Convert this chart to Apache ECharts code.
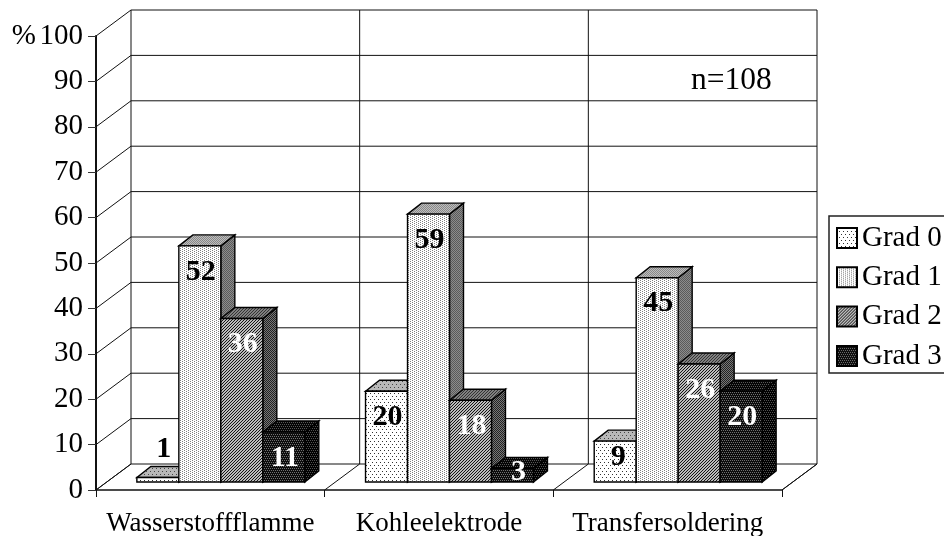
<!DOCTYPE html>
<html>
<head>
<meta charset="utf-8">
<style>html,body{margin:0;padding:0;background:#fff}#chart{width:944px;height:536px}</style>
<script src="https://cdn.jsdelivr.net/npm/echarts@6/dist/echarts.min.js"></script>
</head>
<body>
<div id="chart"></div>
<script>
// Values per procedure and grade (percent of n=108)
const categories = ['Wasserstoffflamme', 'Kohleelektrode', 'Transfersoldering'];
const grad0 = [1, 20, 9];
const grad1 = [52, 59, 45];
const grad2 = [36, 18, 26];
const grad3 = [11, 3, 20];
const seriesNames = ['Grad 0', 'Grad 1', 'Grad 2', 'Grad 3'];
const yTicks = [0, 10, 20, 30, 40, 50, 60, 70, 80, 90, 100];
const separators = [0, 1, 2, 3];

// Oblique projection used for the walls, the floor and the bars
const wallDx = 35, wallDy = -26;
const barLift = 8, barShiftX = 10.5, barDx = 14, barDy = -11;
const barShare = 0.1836;
const font = '"Liberation Serif","Times New Roman",serif';

// Small repeating fill tiles
function tile(w, h, bg, fg, cells) {
  const c = document.createElement('canvas');
  c.width = w; c.height = h;
  const g = c.getContext('2d');
  g.fillStyle = bg; g.fillRect(0, 0, w, h);
  g.fillStyle = fg;
  cells.forEach(p => g.fillRect(p[0], p[1], 1, 1));
  return { image: c, repeat: 'repeat' };
}
const sparse = [[0, 0], [4, 0], [2, 3], [6, 3]];
const speckle = [[0, 0], [2, 1]];
const checker = [[0, 0], [1, 1]];
const diagonal = [[0, 2], [1, 1], [2, 0]];
const grid = [[0, 0], [2, 0], [1, 2], [3, 2]];

const fills = [
  { front: tile(8, 6, '#ffffff', '#333333', sparse), top: tile(8, 6, '#b8b8b8', '#444444', sparse), side: tile(8, 6, '#888888', '#333333', sparse), text: '#000' },
  { front: tile(4, 2, '#ffffff', '#808080', speckle), top: tile(2, 2, '#bdbdbd', '#888888', checker), side: tile(2, 2, '#8c8c8c', '#5a5a5a', checker), text: '#000' },
  { front: tile(3, 3, '#bbbbbb', '#141414', diagonal), top: tile(3, 3, '#808080', '#333333', diagonal), side: tile(2, 2, '#777777', '#222222', checker), text: '#fff' },
  { front: tile(4, 4, '#0c0c0c', '#707070', grid), top: tile(4, 4, '#050505', '#555555', grid), side: tile(4, 4, '#000000', '#505050', grid), text: '#fff' }
];

// Label placement relative to the top of a bar's front face, for the short bars
function labelShift(v) {
  if (v === 1) return { x: 6, y: -28 };
  if (v === 3) return { x: 6, y: 4 };
  if (v === 9) return { x: 3, y: 16 };
  return { x: 1, y: 26 };
}

function barSeries(index, values) {
  const f = fills[index];
  return {
    type: 'custom',
    name: seriesNames[index],
    coordinateSystem: 'cartesian2d',
    encode: { x: 0, y: 1 },
    z: 5,
    itemStyle: { color: f.front, borderColor: '#000', borderWidth: 1 },
    data: values.map((v, i) => [i, v]),
    renderItem: function (params, api) {
      const v = api.value(1);
      const top = api.coord([api.value(0), v]);
      const base = api.coord([api.value(0), 0]);
      const w = api.size([1, 0])[0] * barShare;
      const x0 = top[0] + barShiftX + (index - 2) * w;
      const x1 = x0 + w;
      const yT = top[1] - barLift;
      const yB = base[1] - barLift;
      const line = { stroke: '#000', lineWidth: 1.4 };
      const shift = labelShift(v);
      return {
        type: 'group',
        children: [
          { type: 'polygon', shape: { points: [[x1, yT], [x1 + barDx, yT + barDy], [x1 + barDx, yB + barDy], [x1, yB]] }, style: Object.assign({ fill: f.side }, line) },
          { type: 'polygon', shape: { points: [[x0, yT], [x0 + barDx, yT + barDy], [x1 + barDx, yT + barDy], [x1, yT]] }, style: Object.assign({ fill: f.top }, line) },
          { type: 'rect', shape: { x: x0, y: yT, width: w, height: yB - yT }, style: Object.assign({ fill: f.front }, line) },
          { type: 'text', z2: 20, x: (x0 + x1) / 2 + shift.x, y: yT + shift.y, style: { text: String(v), fill: f.text, font: 'bold 30px ' + font, align: 'center', verticalAlign: 'middle' } }
        ]
      };
    }
  };
}

// Left wall slants and back wall rules, one per y tick, plus the floor edge at zero
const wallSeries = {
  type: 'custom',
  coordinateSystem: 'cartesian2d',
  silent: true,
  z: 1,
  encode: { x: 0, y: 1 },
  data: yTicks.map(t => [0, t]),
  renderItem: function (params, api) {
    const r = params.coordSys;
    const y = api.coord([0, api.value(1)])[1];
    const right = r.x + r.width;
    const line = { stroke: '#111', lineWidth: 1 };
    const children = [
      { type: 'line', shape: { x1: r.x, y1: y, x2: r.x + wallDx, y2: y + wallDy }, style: line },
      { type: 'line', shape: { x1: r.x + wallDx, y1: y + wallDy, x2: right + wallDx, y2: y + wallDy }, style: line }
    ];
    if (api.value(1) === 0) {
      children.push({ type: 'line', shape: { x1: right, y1: y, x2: right + wallDx, y2: y + wallDy }, style: line });
    }
    return { type: 'group', children };
  }
};

// Back wall verticals and floor slants at the category boundaries
const boundarySeries = {
  type: 'custom',
  coordinateSystem: 'cartesian2d',
  silent: true,
  z: 1,
  encode: { x: 0, y: 1 },
  data: separators.map(s => [s, 0]),
  renderItem: function (params, api) {
    const r = params.coordSys;
    const x = r.x + api.size([1, 0])[0] * api.value(0);
    const y = r.y + r.height;
    const line = { stroke: '#111', lineWidth: 1 };
    return {
      type: 'group',
      children: [
        { type: 'line', shape: { x1: x + wallDx, y1: r.y + wallDy, x2: x + wallDx, y2: y + wallDy }, style: line },
        { type: 'line', shape: { x1: x, y1: y, x2: x + wallDx, y2: y + wallDy }, style: line }
      ]
    };
  }
};

const chart = echarts.init(document.getElementById('chart'), null, { renderer: 'canvas' });
chart.setOption({
  animation: false,
  backgroundColor: '#fff',
  textStyle: { fontFamily: font },
  title: {
    text: 'n=108', left: 686, top: 60,
    textStyle: { fontFamily: font, fontWeight: 'normal', fontSize: 31.5, color: '#000' }
  },
  legend: {
    orient: 'vertical',
    left: 829, top: 216,
    padding: [7, 40, 2, 7],
    itemWidth: 20, itemHeight: 20, itemGap: 9.3,
    icon: 'rect',
    borderColor: '#222', borderWidth: 1.5,
    selectedMode: false,
    textStyle: { fontFamily: font, fontSize: 29, color: '#000', lineHeight: 30, padding: [0, 0, 0, 0] },
    data: seriesNames
  },
  grid: { left: 96, right: 162, top: 36, bottom: 46, outerBoundsMode: 'none' },
  xAxis: {
    type: 'category',
    data: categories,
    axisLine: { lineStyle: { color: '#111', width: 1.5 } },
    axisTick: { show: true, length: 7, lineStyle: { color: '#111', width: 1 } },
    axisLabel: { fontFamily: font, fontSize: 27, color: '#000', margin: 20, interval: 0 }
  },
  yAxis: {
    type: 'value',
    min: 0, max: 100, interval: 10,
    splitLine: { show: false },
    axisLine: { show: true, lineStyle: { color: '#111', width: 2 } },
    axisTick: { show: true, length: 8, lineStyle: { color: '#333', width: 1 } },
    axisLabel: {
      fontFamily: font, fontSize: 29, color: '#000', margin: 13,
      formatter: v => v === 100 ? '%{gap| }100' : String(v),
      rich: { gap: { fontFamily: font, fontSize: 14 } }
    }
  },
  series: [wallSeries, boundarySeries, barSeries(0, grad0), barSeries(1, grad1), barSeries(2, grad2), barSeries(3, grad3)]
});
</script>
</body>
</html>
